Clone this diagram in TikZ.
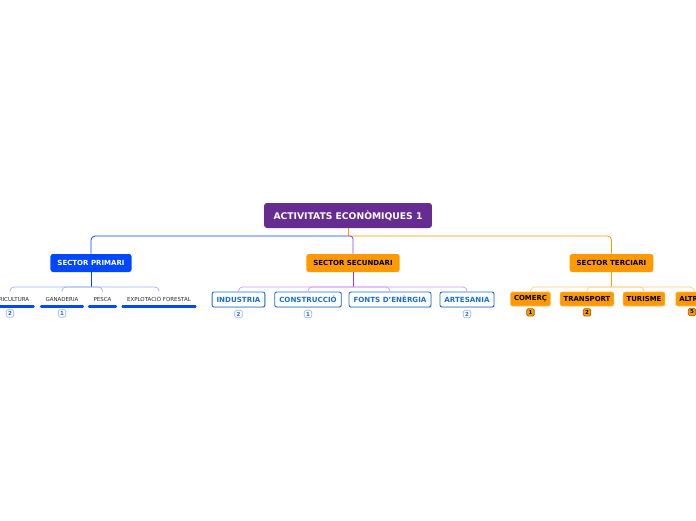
\documentclass[tikz,border=0pt]{standalone}
\usepackage{fontspec}
\setmainfont{DejaVu Sans}
\usetikzlibrary{positioning,shadows}

\definecolor{rootpurple}{RGB}{102,44,145}
\definecolor{primblue}{RGB}{0,72,255}
\definecolor{primline}{RGB}{150,178,255}
\definecolor{secorange}{RGB}{255,153,0}
\definecolor{secpurple}{RGB}{160,50,240}
\definecolor{secline}{RGB}{210,150,255}
\definecolor{terline}{RGB}{255,205,130}
\definecolor{childblue}{RGB}{28,110,215}
\definecolor{leafgray}{RGB}{40,40,40}

\begin{document}
\begin{tikzpicture}[x=1pt,y=-1pt,thick,
  root node/.style={rectangle,rounded corners=3pt,fill=rootpurple,text=white,
    font=\fontsize{9.2}{10}\selectfont\bfseries,minimum height=25pt,inner xsep=9.5pt},
  sector node/.style={rectangle,rounded corners=2.5pt,
    font=\fontsize{7}{8}\selectfont\bfseries,minimum height=18pt,inner xsep=7pt},
  leaf node/.style={font=\fontsize{5.5}{6}\selectfont,text=leafgray,
    minimum height=14pt,inner xsep=5pt},
  box node/.style={rectangle,rounded corners=2pt,draw=childblue,line width=0.9pt,
    fill=white,text=childblue,font=\fontsize{7.1}{8}\selectfont\bfseries,
    minimum height=15pt,inner xsep=4.5pt,
    drop shadow={opacity=0.25,shadow xshift=0.6pt,shadow yshift=-0.8pt}},
  tag node/.style={rectangle,rounded corners=2pt,fill=secorange,
    draw=secorange!70!white,line width=0.6pt,
    font=\fontsize{6.9}{8}\selectfont\bfseries,minimum height=14pt,inner xsep=3.5pt},
  badge/.style={rectangle,rounded corners=1.5pt,draw,line width=0.6pt,inner sep=0pt,
    minimum width=7.5pt,minimum height=7.5pt,font=\fontsize{5.5}{6}\selectfont\bfseries}]

  \useasboundingbox (0,0) rectangle (696,520);
  \clip (0,0) rectangle (696,520);

  \coordinate (top bar) at (348,236);
  \coordinate (sub bar) at (348,287);

  \node[root node] (AE) at (348,215.5) {ACTIVITATS ECONÒMIQUES 1};

  \node[sector node,fill=primblue,text=white] (SP) at (91,263) {SECTOR PRIMARI};
  \node[sector node,fill=secorange] (SS) at (353,263) {SECTOR SECUNDARI};
  \node[sector node,fill=secorange] (ST) at (611.5,263) {SECTOR TERCIARI};

  % primari
  \node[leaf node] (AG) at (10,299) {AGRICULTURA};
  \node[leaf node] (GA) at (62,299) {GANADERIA};
  \node[leaf node] (PE) at (102.5,299) {PESCA};
  \node[leaf node] (EF) at (159,299) {EXPLOTACIÓ FORESTAL};

  % secundari
  \node[box node] (IN) at (238.5,299.5) {INDUSTRIA};
  \node[box node] (CO) at (308,299.5) {CONSTRUCCIÓ};
  \node[box node] (FE) at (390,299.5) {FONTS D'ENÈRGIA};
  \node[box node] (AR) at (467,299.5) {ARTESANIA};

  % terciari
  \node[tag node] (CM) at (530.5,299) {COMERÇ};
  \node[tag node] (TR) at (587,299) {TRANSPORT};
  \node[tag node] (TU) at (644,299) {TURISME};
  \node[tag node] (AL) at (693.5,299) {ALTRES};

  % underlines
  \foreach \n in {AG,GA,PE,EF}
    \draw[primblue,line width=2.4pt,line cap=round]
      ([xshift=1pt]\n.south west) -- ([xshift=-1pt]\n.south east);

  % badges
  \node[badge,draw=primline,text=childblue] (AGn) [below=3pt of AG] {2};
  \node[badge,draw=primline,text=childblue] (GAn) [below=3pt of GA] {1};
  \node[badge,draw=primline,text=childblue] (INn) [below=2.5pt of IN] {2};
  \node[badge,draw=primline,text=childblue] (COn) [below=2.5pt of CO] {1};
  \node[badge,draw=primline,text=childblue] (ARn) [below=2.5pt of AR] {2};
  \node[badge,fill=secorange,draw=secorange!60!black] (CMn) [below=2pt of CM] {1};
  \node[badge,fill=secorange,draw=secorange!60!black] (TRn) [below=2pt of TR] {2};
  \node[badge,fill=secorange,draw=secorange!60!black] (ALn) at (692,312) {5};

  % root connectors
  \draw[secorange,line width=1pt] (AE.south) -- (top bar);
  \draw[primblue,line width=0.8pt,rounded corners=4pt] (top bar) -| (SP.north);
  \draw[secorange,line width=0.8pt,rounded corners=4pt] (top bar) -| (ST.north);
  \draw[secpurple,line width=0.8pt,rounded corners=3pt] (top bar) -| (SS.north);

  % sector connectors
  \draw[primblue,line width=0.9pt] (SP.south) -- (SP.south |- sub bar);
  \foreach \n in {AG,GA,PE,EF}
    \draw[primline,line width=0.7pt,rounded corners=4pt] (SP.south |- sub bar) -| (\n.north);
  \draw[secpurple,line width=0.9pt] (SS.south) -- (SS.south |- sub bar);
  \foreach \n in {IN,CO,FE,AR}
    \draw[secline,line width=0.7pt,rounded corners=4pt] (SS.south |- sub bar) -| (\n.north);
  \draw[secorange,line width=0.9pt] (ST.south) -- (ST.south |- sub bar);
  \foreach \n in {CM,TR,TU}
    \draw[terline,line width=0.7pt,rounded corners=4pt] (ST.south |- sub bar) -| (\n.north);
  \draw[terline,line width=0.7pt,rounded corners=4pt] (ST.south |- sub bar) -| (694,292);
\end{tikzpicture}
\end{document}
